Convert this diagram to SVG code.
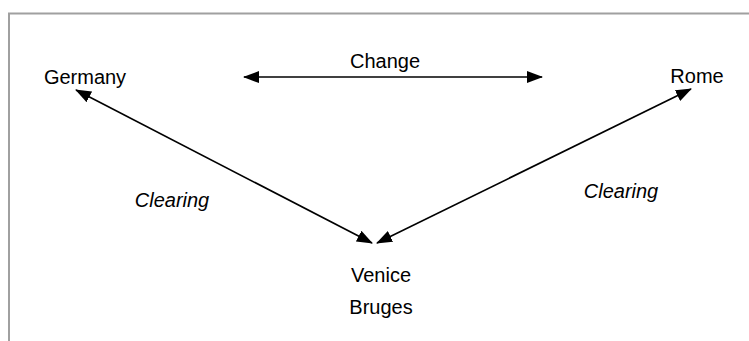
<svg xmlns="http://www.w3.org/2000/svg" width="749" height="341" viewBox="0 0 749 341">
<style>
text{font-family:"Liberation Sans",Arial,sans-serif;font-size:20px;fill:#000;text-anchor:middle}
.it{font-style:italic}
.c{stroke:#000;stroke-width:1.6;fill:none}
</style>
<defs>
<marker id="ah" viewBox="0 0 16 12" refX="15" refY="6" markerWidth="16" markerHeight="12" markerUnits="userSpaceOnUse" orient="auto-start-reverse">
<path d="M0,0 L16,6 L0,12 Z" fill="#000"/>
</marker>
</defs>
<rect x="0" y="0" width="749" height="341" fill="#fff"/>
<path d="M9,341 V13.5 H749" fill="none" stroke="#a0a0a0" stroke-width="2"/>
<g id="connectors">
<line class="c" x1="244" y1="77" x2="542" y2="77" marker-start="url(#ah)" marker-end="url(#ah)"/>
<line class="c" x1="372" y1="243" x2="76" y2="90" marker-start="url(#ah)" marker-end="url(#ah)"/>
<line class="c" x1="377" y1="243" x2="691" y2="89" marker-start="url(#ah)" marker-end="url(#ah)"/>
</g>
<g id="change"><text x="385" y="68">Change</text></g>
<g id="germany"><text x="85" y="84">Germany</text></g>
<g id="rome"><text x="697" y="83">Rome</text></g>
<g id="clearing-left"><text class="it" x="172" y="207">Clearing</text></g>
<g id="clearing-right"><text class="it" x="621" y="198">Clearing</text></g>
<g id="venice-bruges"><text x="381" y="282">Venice</text><text x="381" y="314">Bruges</text></g>
</svg>
